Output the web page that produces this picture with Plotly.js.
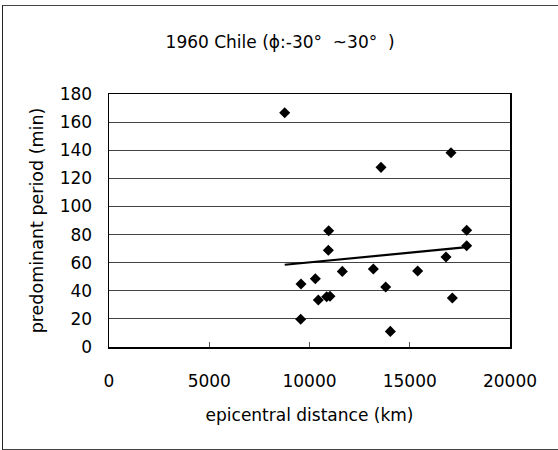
<!DOCTYPE html>
<html>
<head>
<meta charset="utf-8">
<script src="https://cdn.plot.ly/plotly-3.0.1.min.js"></script>
<style>
  html, body { margin: 0; padding: 0; background: #fff; }
  #frame { position: absolute; left: 2px; top: 5px; width: 560px; height: 443px;
           border-left: 1px solid #222; border-top: 1px solid #444; border-bottom: 1px solid #444; }
  #chart { position: absolute; left: 0; top: 0; width: 558px; height: 450px; }
</style>
</head>
<body>
<div id="frame"></div>
<div id="chart"></div>
<script>
// Epicentral distance (km) of each observation
const distanceKm = [8763, 17057, 13566, 10957, 17840, 10939, 17840, 16808, 11637, 13184,
                    15395, 9576, 10291, 13800, 10440, 10857, 11022, 17124, 9560, 14032];
// Predominant period (min)
const periodMin = [166.6, 138.2, 127.8, 82.7, 83.0, 68.8, 72.1, 64.0, 53.8, 55.5,
                   54.1, 44.8, 48.6, 42.7, 33.4, 35.8, 36.1, 34.9, 19.7, 11.1];
// Linear trend line end points (as drawn in the reference)
const trendX = [8763, 17840];
const trendY = [58.5, 71.0];
const xTicks = [0, 5000, 10000, 15000, 20000];
const yTicks = [0, 20, 40, 60, 80, 100, 120, 140, 160, 180];

const FONT = '"DejaVu Sans", "Noto Sans", sans-serif';

const data = [
  { x: distanceKm, y: periodMin, type: 'scatter', mode: 'markers',
    marker: { symbol: 'diamond', size: 8.5, color: '#000' }, hoverinfo: 'x+y' },
  { x: trendX, y: trendY, type: 'scatter', mode: 'lines',
    line: { color: '#000', width: 2.2 }, hoverinfo: 'skip' }
];

const layout = {
  width: 558, height: 450,
  margin: { l: 109, r: 48, t: 94, b: 103 },
  paper_bgcolor: 'rgba(0,0,0,0)', plot_bgcolor: '#fff',
  showlegend: false,
  font: { family: FONT, color: '#000' },
  title: { text: '1960 Chile (ϕ:-30°  ~30°  )', font: { size: 17, family: FONT, color: '#000' },
           x: 0.502, xanchor: 'center', y: 0.907, yanchor: 'middle' },
  xaxis: {
    range: [0, 20000], tickvals: xTicks, ticktext: xTicks.map(String),
    showgrid: false, zeroline: false,
    showline: true, mirror: true, linecolor: '#000', linewidth: 1.5,
    ticks: 'inside', ticklen: 5, tickcolor: '#555',
    ticklabelstandoff: 18,
    tickfont: { size: 17, family: FONT },
    title: { text: 'epicentral distance (km)', font: { size: 17, family: FONT }, standoff: 19 }
  },
  yaxis: {
    range: [0, 180], tickvals: yTicks, ticktext: yTicks.map(String),
    showgrid: true, gridcolor: '#444', gridwidth: 1, zeroline: false,
    showline: true, mirror: true, linecolor: '#000', linewidth: 1.5,
    ticks: '', ticklabelstandoff: 12,
    tickfont: { size: 17, family: FONT },
    title: { text: 'predominant period (min)', font: { size: 17.5, family: FONT }, standoff: 11 }
  }
};

Plotly.newPlot('chart', data, layout, { displayModeBar: false, staticPlot: true });
</script>
</body>
</html>
